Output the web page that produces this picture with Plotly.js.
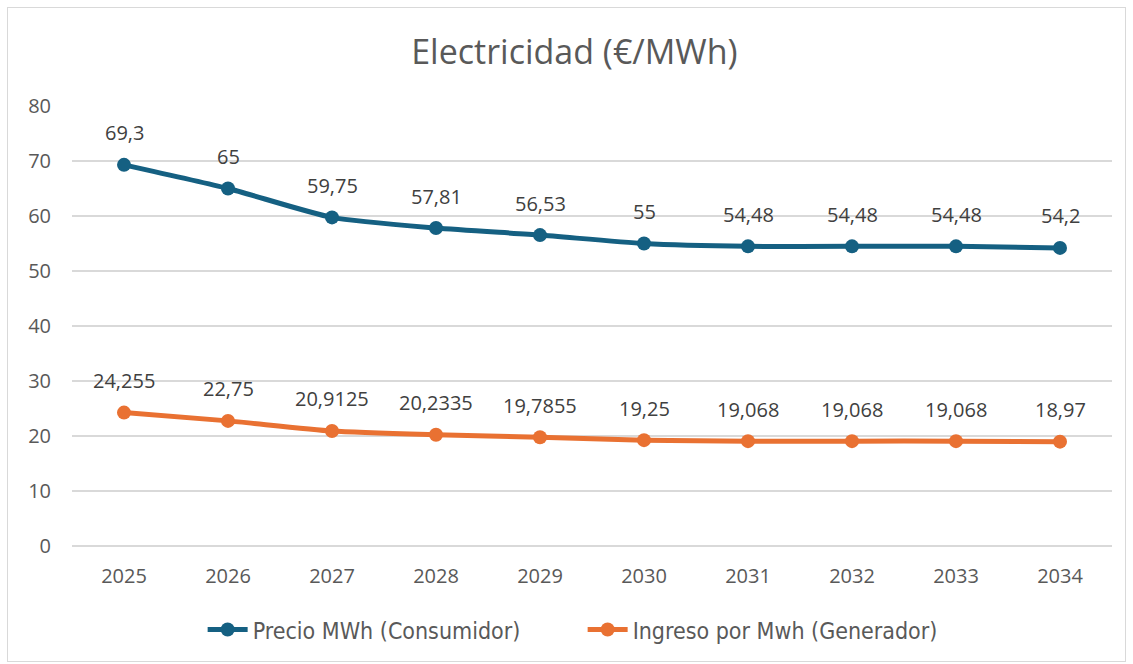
<!DOCTYPE html>
<html>
<head>
<meta charset="utf-8">
<script src="https://cdn.plot.ly/plotly-3.0.1.min.js"></script>
<style>
html,body{margin:0;padding:0;background:#fff;}
#wrap{position:relative;width:1133px;height:664px;}
#chart{width:1133px;height:664px;}
#frame{position:absolute;left:7px;top:7px;width:1117px;height:653px;border:1px solid #d9d9d9;pointer-events:none;}
</style>
</head>
<body>
<div id="wrap"><div id="chart"></div><div id="frame"></div></div>
<script>
const years = [2025, 2026, 2027, 2028, 2029, 2030, 2031, 2032, 2033, 2034];
const precioConsumidor = [69.3, 65, 59.75, 57.81, 56.53, 55, 54.48, 54.48, 54.48, 54.2];
const ingresoGenerador = [24.255, 22.75, 20.9125, 20.2335, 19.7855, 19.25, 19.068, 19.068, 19.068, 18.97];
const seriesNames = ['Precio MWh (Consumidor)', 'Ingreso por Mwh (Generador)'];
const colors = ['#156082', '#E97132'];

const fmt = v => String(v).replace('.', ',');
const textColor = '#595959';
const font = 'Open Sans, Liberation Sans, sans-serif';

function trace(y, name, color) {
  return {
    x: years, y: y, name: name, type: 'scatter', mode: 'lines+markers',
    line: {color: color, width: 5, shape: 'spline', smoothing: 0.6},
    marker: {color: color, size: 14},
    hoverinfo: 'skip'
  };
}

const annotations = [];
[precioConsumidor, ingresoGenerador].forEach(arr => {
  arr.forEach((v, i) => {
    annotations.push({
      x: years[i], y: v, xref: 'x', yref: 'y', text: fmt(v), showarrow: false,
      yshift: 32, font: {family: font, size: 20, color: '#404040'}
    });
  });
});

const layout = {
  width: 1133, height: 664,
  margin: {l: 72, r: 21, t: 106, b: 118},
  paper_bgcolor: '#ffffff', plot_bgcolor: '#ffffff',
  title: {text: 'Electricidad (€/MWh)', x: 0.507, xanchor: 'center', y: 0.922, yanchor: 'middle',
          font: {family: font, size: 34, color: textColor}},
  xaxis: {type: 'linear', range: [2024.5, 2034.5], tickmode: 'array', tickvals: years,
          ticktext: years.map(String), showgrid: false, zeroline: false, showline: false,
          ticks: '', tickfont: {family: font, size: 20, color: textColor}, ticklabelstandoff: 16},
  yaxis: {range: [0, 80], dtick: 10, showgrid: true, gridcolor: '#d9d9d9', gridwidth: 1.3,
          zeroline: true, zerolinecolor: '#d9d9d9', zerolinewidth: 1.3, showline: false, ticks: '',
          tickfont: {family: font, size: 20, color: textColor}, ticklabelstandoff: 20},
  legend: {orientation: 'h', x: 0.491, xanchor: 'center', y: -0.19, yanchor: 'middle',
           font: {family: 'Liberation Sans Narrow, DejaVu Sans Condensed, sans-serif', size: 23, color: textColor},
           itemwidth: 40, traceorder: 'normal', entrywidth: 325, entrywidthmode: 'pixels'},
  annotations: annotations,
  showlegend: true
};

Plotly.newPlot('chart', [
  trace(precioConsumidor, seriesNames[0], colors[0]),
  trace(ingresoGenerador, seriesNames[1], colors[1])
], layout, {displayModeBar: false, staticPlot: true});
</script>
</body>
</html>
